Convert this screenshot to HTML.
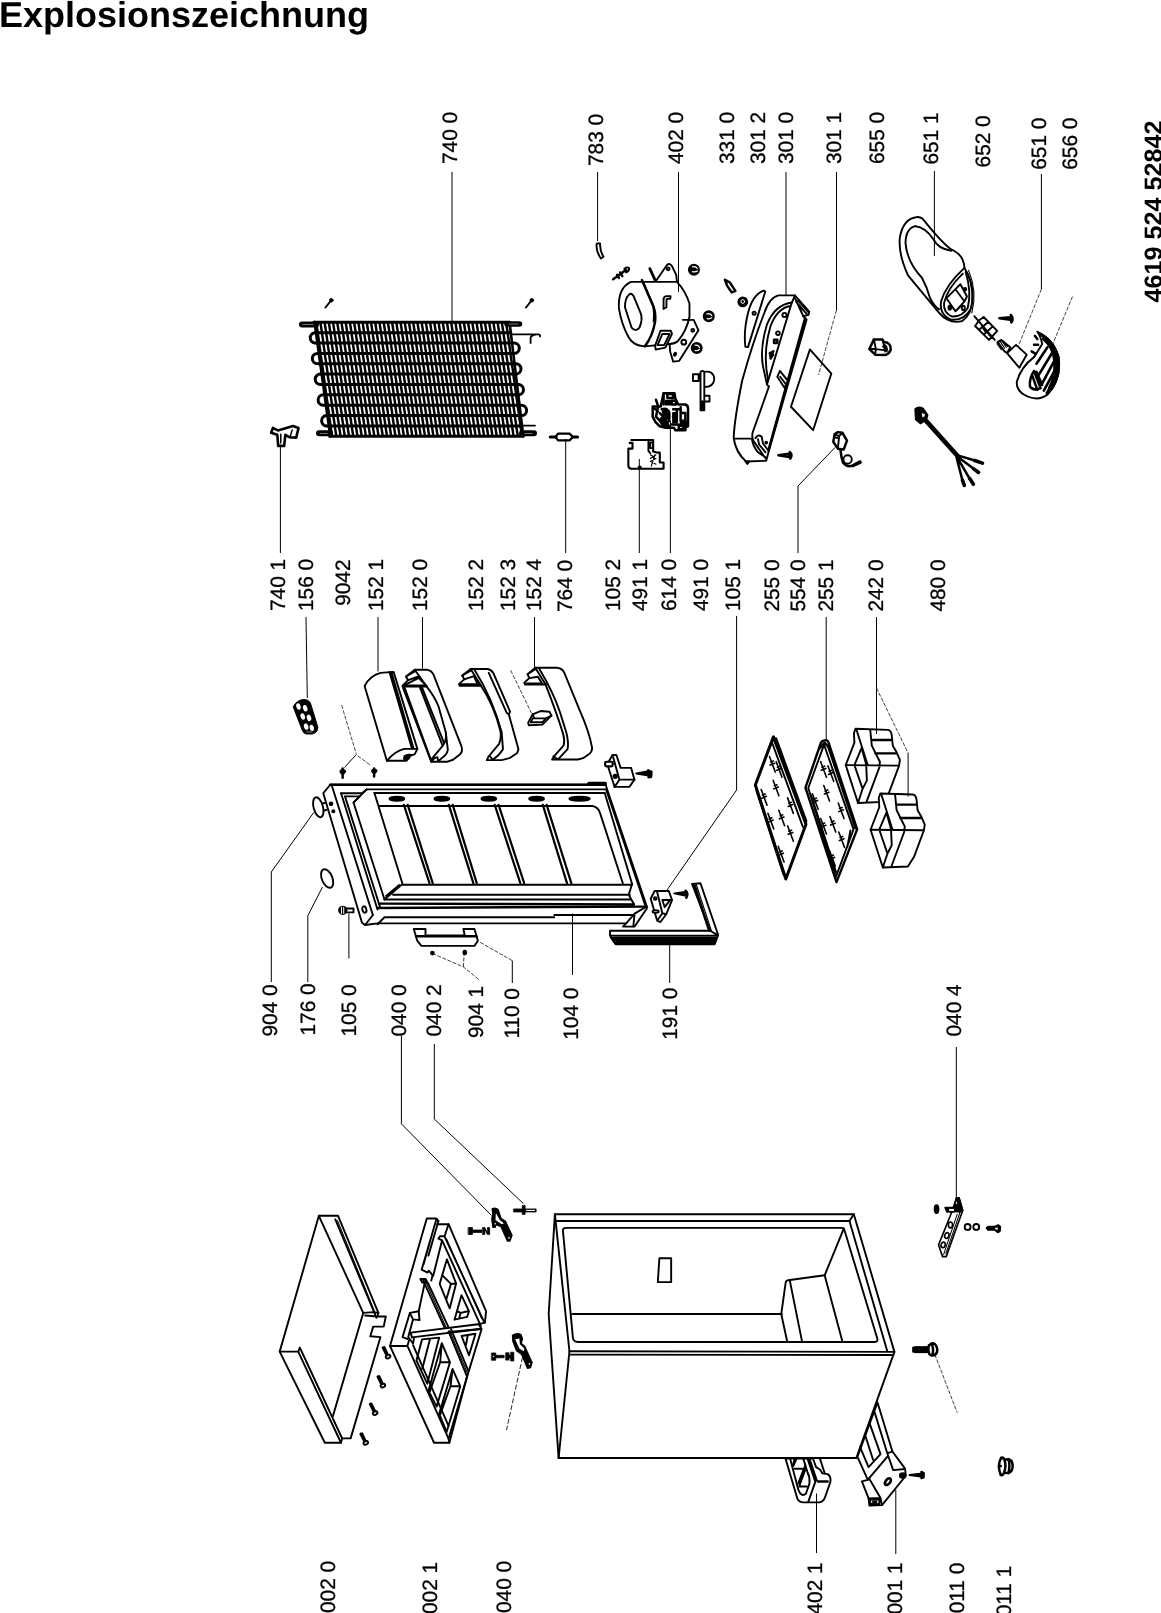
<!DOCTYPE html>
<html><head><meta charset="utf-8"><title>Explosionszeichnung</title>
<style>
html,body{margin:0;padding:0;background:#fff;}
body{width:1161px;height:1613px;overflow:hidden;position:relative;font-family:"Liberation Sans",sans-serif;}
svg{position:absolute;left:0;top:0;filter:grayscale(1);}
text{text-rendering:geometricPrecision;-webkit-font-smoothing:antialiased;}
.t{font-family:"Liberation Sans",sans-serif;font-size:20.8px;fill:#000;stroke:#000;stroke-width:0.3;}
.b{font-family:"Liberation Sans",sans-serif;font-weight:bold;fill:#000;}
.p *{vector-effect:non-scaling-stroke;}
.p{fill:none;stroke:#000;stroke-width:1.9;stroke-linejoin:round;stroke-linecap:round;}
.w{fill:#fff;}
.k{fill:#000;}
.ld{stroke:#000;stroke-width:1;fill:none;}
.dl{stroke:#111;stroke-width:0.8;fill:none;stroke-dasharray:4 1.5;}
.th{stroke-width:1.1;}
.hv{stroke-width:2.5;}
</style></head><body>
<svg width="1161" height="1613" viewBox="0 0 1161 1613">
<!-- 00_labels.svg -->
<text class="b" x="-1" y="27.2" font-size="36">Explosionszeichnung</text>
<text class="b" font-size="25.2" transform="translate(1161.5,302.5) rotate(-90)">4619 524 52842</text>
<text class="t" transform="translate(457.4,164.0) rotate(-90)">740 0</text>
<text class="t" transform="translate(602.9,166.0) rotate(-90)">783 0</text>
<text class="t" transform="translate(683.4,164.0) rotate(-90)">402 0</text>
<text class="t" transform="translate(734.0,164.0) rotate(-90)">331 0</text>
<text class="t" transform="translate(765.4,164.0) rotate(-90)">301 2</text>
<text class="t" transform="translate(792.7,164.0) rotate(-90)">301 0</text>
<text class="t" transform="translate(841.0,164.0) rotate(-90)">301 1</text>
<text class="t" transform="translate(884.3,164.0) rotate(-90)">655 0</text>
<text class="t" transform="translate(938.2,164.5) rotate(-90)">651 1</text>
<text class="t" transform="translate(990.4,167.4) rotate(-90)">652 0</text>
<text class="t" transform="translate(1045.7,169.7) rotate(-90)">651 0</text>
<text class="t" transform="translate(1076.5,169.7) rotate(-90)">656 0</text>
<text class="t" transform="translate(285.3,611.0) rotate(-90)">740 1</text>
<text class="t" transform="translate(313.0,611.0) rotate(-90)">156 0</text>
<text class="t" transform="translate(350.0,605.8) rotate(-90)">9042</text>
<text class="t" transform="translate(382.7,611.0) rotate(-90)">152 1</text>
<text class="t" transform="translate(427.0,611.0) rotate(-90)">152 0</text>
<text class="t" transform="translate(483.3,611.0) rotate(-90)">152 2</text>
<text class="t" transform="translate(514.8,611.0) rotate(-90)">152 3</text>
<text class="t" transform="translate(541.0,611.0) rotate(-90)">152 4</text>
<text class="t" transform="translate(571.7,612.0) rotate(-90)">764 0</text>
<text class="t" transform="translate(620.3,611.0) rotate(-90)">105 2</text>
<text class="t" transform="translate(646.7,611.0) rotate(-90)">491 1</text>
<text class="t" transform="translate(676.3,611.0) rotate(-90)">614 0</text>
<text class="t" transform="translate(707.6,611.0) rotate(-90)">491 0</text>
<text class="t" transform="translate(739.6,611.0) rotate(-90)">105 1</text>
<text class="t" transform="translate(779.2,611.6) rotate(-90)">255 0</text>
<text class="t" transform="translate(804.5,611.6) rotate(-90)">554 0</text>
<text class="t" transform="translate(832.5,611.6) rotate(-90)">255 1</text>
<text class="t" transform="translate(882.9,611.6) rotate(-90)">242 0</text>
<text class="t" transform="translate(945.4,611.6) rotate(-90)">480 0</text>
<text class="t" transform="translate(277.3,1036.5) rotate(-90)">904 0</text>
<text class="t" transform="translate(315.0,1035.5) rotate(-90)">176 0</text>
<text class="t" transform="translate(356.4,1036.5) rotate(-90)">105 0</text>
<text class="t" transform="translate(405.7,1036.5) rotate(-90)">040 0</text>
<text class="t" transform="translate(440.8,1036.5) rotate(-90)">040 2</text>
<text class="t" transform="translate(483.4,1038.0) rotate(-90)">904 1</text>
<text class="t" transform="translate(518.5,1038.6) rotate(-90)">110 0</text>
<text class="t" transform="translate(578.1,1039.7) rotate(-90)">104 0</text>
<text class="t" transform="translate(677.1,1039.7) rotate(-90)">191 0</text>
<text class="t" transform="translate(961.3,1036.5) rotate(-90)">040 4</text>
<text class="t" transform="translate(334.7,1613.0) rotate(-90)">002 0</text>
<text class="t" transform="translate(437.3,1614.0) rotate(-90)">002 1</text>
<text class="t" transform="translate(511.2,1613.0) rotate(-90)">040 0</text>
<text class="t" transform="translate(822.1,1614.5) rotate(-90)">402 1</text>
<text class="t" transform="translate(902.0,1614.5) rotate(-90)">001 1</text>
<text class="t" transform="translate(964.1,1613.3) rotate(-90)">011 0</text>
<text class="t" transform="translate(1011.4,1616.3) rotate(-90)">011 1</text>

<!-- 10_cabinet.svg -->
<g class="p" transform="translate(540,1190) scale(0.31008)">
<!-- outer body -->
<path class="w" d="M48 78H1012L1143 522L1020 864.5H60L28 400Z"/>
<path d="M48 78L95 520L60 864.5"/>
<path d="M95 520L1143 522"/>
<path d="M96 531L1140 532"/>
<path d="M50 100H998"/>
<path d="M998 100L1120 520"/>
<path d="M1012 78L998 100"/>
<!-- inner opening -->
<path d="M84 122H972Q980 122 982 130L1088 480Q1090 490 1080 490H122Q108 490 106 476L74 132Q73 122 84 122Z"/>
<path d="M104 400L780 400"/>
<path d="M980 124L918 275L800 291Q793 292 792 300L778 400L797 488"/>
<path d="M806 294L845 488"/>
<path d="M918 275L975 488"/>
<path d="M385 220H423V297H380Z"/>
</g>

<!-- 11_rails.svg -->
<g class="p" transform="translate(850,1395) scale(0.07442)">
<path class="w" d="M370 100L570 760L740 990L750 1085L430 1480L260 1485L250 1390L160 1160L240 1140L100 830Z"/>
<path d="M330 230L500 780L570 760M500 780L580 1010L740 995"/>
<path d="M265 385L410 795L250 968L135 700M205 545L310 870"/>
<path d="M500 830L255 1120L240 1140M255 1120L410 1385L430 1480M250 1390L410 1385M270 1405H395V1465H272Z"/>
<ellipse class="k" cx="332" cy="1436" rx="26" ry="9"/>
<ellipse cx="510" cy="1165" rx="30" ry="52" transform="rotate(38 510 1165)" style="stroke-width:2.6"/>
<ellipse class="k" cx="708" cy="1082" rx="38" ry="30"/>
<path class="k" d="M800 1075L950 1058V1096Z"/><path class="k" d="M958 1030L995 1050L990 1110L958 1120Z"/>
</g>
<g class="p" transform="translate(775,1440) scale(0.07752)">
<path class="w" d="M135 238L290 760Q310 805 370 805H570Q625 795 645 740L715 540Q725 470 680 440L610 430L580 380L530 350L490 238Z"/>
<path d="M580 240L640 425"/>
<path d="M195 240L300 640Q340 745 400 690L445 560Q452 480 420 420L365 240"/>
<path d="M255 240L230 330M278 240L236 336M255 370H350M325 600H410M392 320L300 560M402 352L312 600"/>
<path d="M420 240L520 540L430 795M445 240L540 522"/>
<path style="stroke-width:2.4" d="M555 535H680"/>
</g>
<g class="p" transform="translate(760,1340) scale(0.2412)">
<!-- 011 0 screw -->
<path class="hv" d="M636 32V48M644 30V50M652 30V50M660 30V50M668 30V50M676 30V50M684 30V50M692 30V50M636 40H698"/>
<path class="hv" d="M700 22Q694 40 702 58M702 22Q712 10 724 16Q738 30 734 50Q728 66 712 64Q704 62 702 58M712 16Q722 40 714 64"/>
<!-- 011 1 foot -->
<path class="hv" d="M1000 488Q982 520 998 560Q1008 562 1012 550Q1034 556 1044 540Q1052 520 1042 500Q1030 490 1014 498Q1010 486 1000 488ZM1014 498Q1022 522 1012 550M1030 494Q1038 520 1030 552M990 522H998"/>
</g>

<!-- 12_top0.svg -->
<g class="p" transform="translate(270,1200) scale(0.16129)">
<path class="w" d="M303 98H422L672 700L665 722H718L705 785H640L622 845L685 850L500 1478H447L440 1505H340L60 940Z"/>
<path d="M303 98L578 700L390 1340"/>
<path d="M60 940H175L185 915L447 1478"/>
<path d="M175 940L440 1505"/>
<path class="th" d="M196 940L440 1462"/>
<path d="M405 120L660 730"/>
<path class="th" d="M418 128L652 700"/>
<path d="M578 700L640 695L672 700M590 716L665 722"/>
<defs><g id="scr"><path class="hv" d="M-22 -40L2 8M-14 -42L8 4"/><ellipse class="w" cx="10" cy="16" rx="15" ry="10" transform="rotate(-25 10 16)"/></g></defs>
</g>
<g class="p" transform="translate(270,1200) scale(0.16129)">
<use href="#scr" transform="translate(722 955)"/>
<use href="#scr" transform="translate(690 1135)"/>
<use href="#scr" transform="translate(642 1305)"/>
<use href="#scr" transform="translate(584 1490)"/>
</g>

<!-- 13_top1.svg -->
<g class="p" transform="translate(380,1200) scale(0.16129)">
<path class="w" d="M290 115H350L362 130L355 150H425L658 690L650 760L612 770L630 800L540 1095L430 1505H335L62 905Z"/>
<!-- left slab -->
<path d="M350 118L258 432L295 450L302 438L326 466L318 500M362 132L300 345M340 150L270 400"/>
<path d="M250 490H282L300 520M250 490L262 512H285"/>
<path d="M282 492L240 690L185 700L140 850L172 862"/>
<path d="M185 700L205 740L245 745L240 690M205 740L175 850L205 890L210 860"/>
<path d="M62 905H170L425 1480L430 1505M170 905L180 870"/>
<!-- back-right rail -->
<path d="M425 150L400 225H372L362 240L385 250L625 780M400 225L640 745L650 760M385 250L330 470"/>
<path class="th" d="M412 240L630 735"/>
<!-- cross bar -->
<path d="M190 822L608 770M198 852L622 800M190 822L198 852"/>
<!-- diagonal bar -->
<path d="M268 500L400 790M300 520L425 790M425 815L540 1095M440 800L548 1060"/>
<path class="th" d="M285 510L410 790M432 810L545 1080"/>
<!-- window upper right -->
<path d="M415 368L472 518L432 672L370 520ZM390 470L440 520L472 518M440 520L410 620"/>
<path d="M505 590L552 690L540 725L462 742ZM480 690L500 700L545 690M500 700L490 735"/>
<!-- lower right triangle -->
<path d="M430 818L625 800M506 843L592 829L552 963ZM544 840L533 899"/>
<!-- lower-left ladder -->
<path d="M261 864L367 853L293 1139L226 995ZM309 866L262 1046"/>
<path d="M383 888L434 1006L351 1281L301 1182ZM373 1006H434M373 1006L309 1187M383 888L373 1006"/>
<path d="M450 1048L498 1155L413 1438L367 1326ZM437 1155H498M437 1155L373 1331M450 1048L437 1155"/>
<path d="M205 900L425 1400M540 1095L425 1480"/>
</g>

<!-- 20_condenser.svg -->
<g fill="none" stroke="#000" stroke-linecap="butt">
<path d="M315.7 0.0H509.6" stroke-width="10.4" stroke-dasharray="2.5 1.72" transform="translate(0 327.5) skewX(9) translate(0 0.0)"/>
<path d="M317.2 0.0H510.8" stroke-width="10.4" stroke-dasharray="2.5 1.72" transform="translate(0 337.8) skewX(9) translate(0 0.0)"/>
<path d="M318.6 0.0H512.1" stroke-width="10.4" stroke-dasharray="2.5 1.72" transform="translate(0 348.2) skewX(9) translate(0 0.0)"/>
<path d="M320.0 0.0H513.3" stroke-width="10.4" stroke-dasharray="2.5 1.72" transform="translate(0 358.6) skewX(9) translate(0 0.0)"/>
<path d="M321.5 0.0H514.5" stroke-width="10.4" stroke-dasharray="2.5 1.72" transform="translate(0 368.9) skewX(9) translate(0 0.0)"/>
<path d="M322.9 0.0H515.8" stroke-width="10.4" stroke-dasharray="2.5 1.72" transform="translate(0 379.3) skewX(9) translate(0 0.0)"/>
<path d="M324.3 0.0H517.0" stroke-width="10.4" stroke-dasharray="2.5 1.72" transform="translate(0 389.7) skewX(9) translate(0 0.0)"/>
<path d="M325.8 0.0H518.2" stroke-width="10.4" stroke-dasharray="2.5 1.72" transform="translate(0 400.0) skewX(9) translate(0 0.0)"/>
<path d="M327.2 0.0H519.4" stroke-width="10.4" stroke-dasharray="2.5 1.72" transform="translate(0 410.4) skewX(9) translate(0 0.0)"/>
<path d="M328.6 0.0H520.7" stroke-width="10.4" stroke-dasharray="2.5 1.72" transform="translate(0 420.8) skewX(9) translate(0 0.0)"/>
<path d="M330.1 0.0H521.9" stroke-width="10.4" stroke-dasharray="2.5 1.72" transform="translate(0 431.1) skewX(9) translate(0 0.0)"/>
</g>
<g fill="none" stroke="#000" stroke-width="3" stroke-linecap="round">
<path d="M314.0 322.3H509.5"/>
<path d="M315.4 332.7H510.7"/>
<path d="M316.9 343.0H512.0"/>
<path d="M318.3 353.4H513.2"/>
<path d="M319.7 363.8H514.4"/>
<path d="M321.2 374.1H515.6"/>
<path d="M322.6 384.5H516.9"/>
<path d="M324.1 394.8H518.1"/>
<path d="M325.5 405.2H519.3"/>
<path d="M326.9 415.6H520.5"/>
<path d="M328.4 425.9H521.8"/>
<path d="M329.8 436.3H523.0"/>
<path d="M316.2 332.7H314.7A5.2 5.2 0 0 0 314.7 343.0H317.2"/>
<path d="M319.0 353.4H317.5A5.2 5.2 0 0 0 317.5 363.8H320.0"/>
<path d="M321.9 374.1H320.4A5.2 5.2 0 0 0 320.4 384.5H322.9"/>
<path d="M324.8 394.8H323.3A5.2 5.2 0 0 0 323.3 405.2H325.8"/>
<path d="M327.6 415.6H326.1A5.2 5.2 0 0 0 326.1 425.9H328.6"/>
<path d="M512.6 343.0H514.1A5.2 5.2 0 0 1 514.1 353.4H512.6"/>
<path d="M515.0 363.8H516.5A5.2 5.2 0 0 1 516.5 374.1H515.0"/>
<path d="M517.5 384.5H519.0A5.2 5.2 0 0 1 519.0 394.8H517.5"/>
<path d="M519.9 405.2H521.4A5.2 5.2 0 0 1 521.4 415.6H519.9"/>
</g>
<g fill="none" stroke="#000" stroke-linecap="round" stroke-linejoin="round">
<path d="M314.5 322L330.3 436.5M509.5 322L523.3 436.5" stroke-width="2.6"/>
<path d="M302 324.5H316" stroke-width="6"/>
<path d="M507 324H519.5" stroke-width="5.5"/>
<path d="M319 433.3H330M522 433.3H534" stroke-width="6"/>
<path d="M303 324.5H313M509 324H518M320.5 433.5H327M525 433.5H532" stroke="#777" stroke-width="1.2"/>
<path d="M511 334.3H538.5Q540.5 334.6 540 336.5M536 334.5Q531 335 530.6 338V343" stroke-width="1.8"/>
<path d="M523 425.6H535" stroke-width="1.8"/>
<path d="M325.5 307.5L331 300.5M526 307.5L531.5 300.5" stroke-width="2"/>
<circle cx="331.3" cy="300.3" r="1.8" fill="#000"/><circle cx="531.8" cy="300.3" r="1.8" fill="#000"/>
</g>

<!-- 21_cond_small.svg -->
<g class="p" transform="translate(260,410) scale(0.05168)" style="stroke-width:2.6">
<path class="w" d="M215 440L250 345L345 395L640 310L745 350L700 535L575 528L490 480L468 695H352L335 480Z"/>
<path d="M402 470V640M622 385L585 515" style="stroke-width:1.5"/>
</g>
<g class="p" style="stroke-width:2.2">
<path class="w" d="M555.5 437L558 433.6H569.5L573 437L569.5 440.4H558Z"/>
<path d="M550.3 437H556M572.5 437H577.5" style="stroke-width:3.2"/>
</g>

<!-- 30_compressor.svg -->
<g class="p" transform="translate(590,230) scale(0.12058)">
<!-- bracket top -->
<path d="M545 425L640 288Q660 272 680 300L715 372L722 432"/>
<circle cx="648" cy="322" r="12"/>
<path d="M496 320L540 416" style="stroke-width:2.8"/>
<!-- foot -->
<path class="w" d="M770 745H860L900 832L740 1085L690 1092L665 1010L660 940Z"/>
<circle cx="852" cy="832" r="12"/><circle cx="778" cy="930" r="20"/><ellipse cx="705" cy="1030" rx="8" ry="13" transform="rotate(25 705 1030)"/>
<!-- body -->
<path class="w" d="M340 430H720Q790 500 825 610V720Q800 840 730 920Q700 945 660 945L450 965Q360 960 320 890Q260 780 240 650Q230 480 340 430Z"/>
<path class="hv" d="M430 415L520 620Q548 680 540 760Q520 880 455 965"/>
<path d="M445 440L525 630Q535 700 528 760"/>
<path d="M330 530Q290 560 290 640L345 810Q380 850 410 810Q440 740 420 690L360 545Q345 525 330 530Z"/>
<path d="M610 655V572Q614 548 636 548H668L666 570H645Q634 570 634 585V640Z"/>
<path class="w" d="M585 835H670L680 862L625 975L545 992L540 960Z"/>
<path d="M600 862H660L615 955H560Z"/>
<path d="M770 745H830"/>
<!-- grommets -->
<g class="k"><circle cx="862" cy="330" r="42"/><circle cx="985" cy="715" r="42"/><circle cx="885" cy="978" r="42"/></g>
<g stroke="#fff" style="stroke-width:1.2"><path d="M850 305Q880 300 890 320M850 345Q875 350 890 340M970 695Q1000 690 1010 710M972 735Q995 740 1010 728M872 955Q900 950 908 975M872 1000Q895 1005 908 990"/></g>
<!-- 783 0 tube -->
<path d="M55 115Q48 175 90 236L112 222Q80 170 84 113Q70 105 55 115Z"/>
<!-- clip -->
<path class="hv" d="M192 408L300 330M225 372L240 398M250 352L268 382"/>
<path d="M285 322Q310 300 325 318Q325 345 300 352Z"/>
</g>

<!-- 31_tray.svg -->
<g class="p" transform="translate(720,270) scale(0.13023)">
<!-- 301 0 tray -->
<path class="w" d="M450 195H575L685 320L680 345L640 355L665 380L375 1390L355 1465L200 1470Q120 1400 105 1290Q110 1150 170 850Q250 560 340 330Q380 210 450 195Z"/>
<path class="hv" d="M652 375L372 1385"/>
<path d="M575 195L545 270L360 880L376 895L250 1250Q244 1290 256 1320"/>
<path d="M585 245L668 340M600 235L680 325M575 215L640 355"/>
<path d="M548 250Q420 270 360 420Q305 600 330 740L360 875"/>
<path d="M540 276Q440 292 388 430Q338 600 356 760L370 850"/>
<path d="M110 1295H245L352 1450M245 1295Q250 1350 292 1400L356 1442"/>
<path d="M272 1292Q290 1258 320 1280L330 1332L374 1390M292 1300L300 1340L350 1400"/>
<circle cx="495" cy="345" r="16"/><circle cx="445" cy="485" r="14"/>
<path class="hv" d="M415 535H440V560H415ZM382 640L410 625L385 660L408 650L388 680"/>
<path class="w" d="M440 820L460 775L520 850L495 905Z"/><path d="M462 820L500 870"/>
<circle class="k" cx="355" cy="1325" r="7"/>
<path class="k" d="M195 1470L210 1490L225 1470Z"/>
<!-- 331 0 crescent -->
<path class="w" d="M335 158Q250 190 215 330Q180 470 195 590L215 592L348 165Z"/>
<circle cx="262" cy="332" r="12"/>
<!-- 301 1 rect -->
<path d="M690 610L855 795L715 1230L545 1050Z"/>
<!-- 301 2 clip -->
<path class="hv" d="M38 75L75 95L118 160L90 172L55 122Z"/>
<!-- grommet -->
<circle class="k" cx="175" cy="245" r="34"/><circle cx="175" cy="242" r="14" stroke="#fff" style="stroke-width:1"/>
<!-- screw -->
<path class="hv" d="M448 1422L530 1410M448 1422L530 1436M535 1398Q560 1420 540 1448L530 1410V1436"/>
<!-- 554 0 -->
<path class="hv" d="M880 1262L905 1245L940 1250L975 1310L950 1378L905 1372L870 1320Z"/>
<path d="M880 1262L915 1275L940 1250M915 1275L905 1372M885 1285L900 1290"/>
<path class="hv" d="M925 1380Q930 1440 945 1480Q980 1520 1020 1500L1075 1470"/>
<circle cx="980" cy="1455" r="32"/>
</g>

<!-- 32_relay.svg -->
<g class="p" transform="translate(620,360) scale(0.09474)">
<!-- 614 0 relay -->
<path class="w hv" d="M345 490H430L460 350H575L585 410L615 470H690Q718 480 718 510V700L690 712V742H585L570 715L480 715L420 700L375 655L345 600Z"/>
<g class="hv"><path d="M380 420L400 480M460 350V470M500 360H560V400H500ZM545 430H590V470H545ZM400 500L380 600L430 650M440 520Q500 500 520 560V640L470 690M560 520H640M600 520V650M640 560H690V640H640ZM420 560L460 600L430 620M540 680H620M620 690H670V730H620ZM560 600L590 640M470 540L500 600M350 500L400 540M640 500V560"/></g>
<path class="k" d="M450 540H520V620H470ZM560 560H600V660H560ZM480 430H530V470H480ZM640 650H700V700H640ZM420 640L480 620L520 700L450 700Z"/>
<!-- 491 1 cover -->
<path style="stroke-width:2.1" d="M120 845H350V965L400 978H420V1082H460V1148H115Q88 1142 88 1112V935H132V875H102"/>
<path d="M300 850V960L320 985M320 870H348V930H320Z"/>
<path class="th" d="M320 1000L380 1040L320 1070L380 1100M330 1120L370 1000M320 1040L380 1000"/>
<circle class="k" cx="208" cy="1135" r="12"/>
<!-- 491 0 -->
<path d="M850 125V530H890V135M850 125Q870 105 890 125M890 125Q990 110 995 200Q990 285 890 285M770 150H830V222H770ZM850 150H830M905 378H945V438H905M870 435V525" />
</g>

<!-- 33_lamp.svg -->
<g class="p" transform="translate(890,200) scale(0.16367)">
<!-- 651 1 cover -->
<path class="w" d="M160 105Q80 115 60 230Q50 330 110 460L300 690Q360 760 440 740Q500 700 505 600Q510 500 455 415Q450 340 390 310Q340 290 200 115Q180 100 160 105Z"/>
<path d="M155 160Q95 175 95 265Q105 380 195 475Q225 530 245 600Q270 650 300 668"/>
<path d="M155 160Q215 165 265 240Q295 300 375 310"/>
<path d="M455 415Q340 520 312 620Q300 700 370 730Q450 740 490 670"/>
<path d="M445 450Q350 540 330 630Q325 690 380 712Q440 715 475 660Q500 560 462 440"/>
<path d="M345 600L400 545L455 620L400 680ZM400 545L430 515L470 590L455 620M370 640L400 680L440 640"/>
<ellipse class="k" cx="365" cy="658" rx="8" ry="12"/><ellipse cx="448" cy="660" rx="9" ry="14"/><circle class="k" cx="458" cy="545" r="8"/>
<path class="th" d="M470 440Q520 560 490 680M480 430Q535 560 500 690"/>
<!-- 652 0 socket -->
<path d="M515 710L640 855M545 735L572 715L655 800L605 855L520 770ZM548 790L600 745M575 820L628 772M560 765L580 800M590 800L610 830"/>
<!-- small screw -->
<path class="hv" d="M668 722L735 716M668 722L735 732M738 702Q758 722 742 748L735 716"/>
<!-- 651 0 bulb -->
<path class="w" d="M715 935L770 885L835 945L790 1025Z"/>
<path d="M655 870L680 855L735 900L715 935L700 925Z"/>
<path class="th" d="M662 868L690 912M672 862L700 906M682 858L710 900M692 862L718 895M655 880L680 915"/>
<!-- 656 0 lens -->
<path class="w" d="M900 805Q1000 850 1030 960Q1050 1100 960 1190Q900 1235 820 1190Q770 1160 775 1110Q800 1020 880 960L930 880Q920 830 900 805Z"/>
<path class="k" d="M905 810Q1000 850 1030 960Q1048 1095 962 1188Q1030 1085 1008 975Q985 870 905 810Z"/><path class="hv" d="M935 850Q1000 900 1005 990Q1010 1080 972 1150"/>
<path style="stroke-width:2.6" d="M962 900L895 1000M990 935L905 1075M1008 975L925 1130M1015 1025L940 1165M1015 1080L958 1180"/>
<path class="hv" d="M880 1045Q850 1090 855 1140Q880 1170 920 1150M880 1045L920 1150M870 1075L900 1160M895 1050L930 1130"/>
<path class="hv" d="M885 830L900 850M880 885H905M865 925L890 940"/>
</g>

<!-- 34_cable.svg -->
<g class="p" transform="translate(850,320) scale(0.1292)">
<!-- 655 0 -->
<path class="hv" d="M150 225L185 150H250L262 170Q320 175 315 230Q305 262 275 270L195 268Z"/>
<path d="M185 150L200 225L275 235L250 150M150 225L200 225M200 225L195 268M262 190Q290 200 285 240M255 205Q275 215 270 245"/>
<!-- 480 0 cable -->
<path class="k" d="M505 690Q530 665 565 685L600 735L590 770L545 800L510 770Z"/>
<path stroke="#fff" class="k" style="fill:#fff;stroke:none" d="M555 720L580 730L575 760L560 750Z"/>
<path style="stroke-width:4.6" d="M575 765L840 1060"/>
<path class="hv" d="M840 1050L960 1085M835 1060L950 1145M830 1065L925 1225M825 1065L870 1240"/>
<path style="stroke-width:3.6" d="M965 1088L1025 1108M955 1150L995 1180M925 1225L955 1272M870 1240L885 1280"/>
<!-- 554 0 tail -->
<path style="stroke-width:3" d="M25 1128L80 1102"/>
</g>

<!-- 40_door.svg -->
<g class="p" transform="translate(300,770) scale(0.15504)">
<!-- door body fill -->
<path class="w" d="M195 95H1971L2237 880V893L2158 1010H2083L2104 989H500L420 1000L400 985L150 150Z"/>
<path style="stroke-width:2.6" d="M195 95H1971"/>
<path style="stroke-width:3" d="M1862 86H1970"/>
<!-- left face -->
<path d="M205 100L470 935M265 150L500 900M290 170L515 880"/>
<path d="M265 150H400L430 125H1975M290 170H385L345 210L545 835"/>
<path d="M430 125L345 210"/>
<path d="M480 148H1966"/>
<path d="M480 148L660 730"/>
<path d="M510 232H1886Q1926 240 1936 280L2082 730"/>
<path d="M545 835L655 740H2142M555 812L640 742"/>
<path d="M600 805H2128M545 835H2136"/>
<path style="stroke-width:2.4" d="M510 862L2154 867M500 890L2234 881"/>
<path d="M545 950L500 995M545 950H1640M1640 935H2145"/>
<path d="M470 935L420 1000"/>
<!-- right end -->
<path d="M1976 130L2226 870M1966 150L2142 735L2120 805L2154 866"/>
<path d="M2237 880L2158 926L2104 989M2158 926L2150 1008"/>
<!-- slots -->
<g class="k"><ellipse cx="625" cy="185" rx="48" ry="13"/><ellipse cx="915" cy="185" rx="48" ry="13"/><ellipse cx="1218" cy="185" rx="48" ry="13"/><ellipse cx="1526" cy="185" rx="48" ry="13"/><ellipse cx="1803" cy="185" rx="66" ry="13"/></g>
<!-- dividers -->
<g style="stroke-width:2.2"><path d="M670 225L835 730M695 225L856 730M960 225L1118 730M985 225L1140 730M1256 225L1421 730M1281 225L1446 730M1566 225L1722 730M1591 225L1750 730"/></g>
<!-- details -->
<circle class="k" cx="200" cy="218" r="9"/><circle class="k" cx="215" cy="266" r="7"/>
<ellipse cx="415" cy="900" rx="13" ry="21" transform="rotate(-15 415 900)"/>
<!-- 904 0 cap -->
<ellipse class="w" cx="118" cy="240" rx="30" ry="66" transform="rotate(-15 118 240)"/>
<path d="M146 215L162 212M152 262L170 258"/>
<!-- 176 0 -->
<ellipse cx="175" cy="700" rx="34" ry="63" transform="rotate(-22 175 700)"/>
<!-- 105 0 bolt -->
<circle class="k" cx="276" cy="905" r="24"/><path stroke="#fff" style="stroke-width:1" d="M268 885V925M282 885V925"/>
<path d="M298 893H345V918H298"/>
<!-- top screws -->
<path class="hv" d="M275 -10V50M262 8Q275 -8 290 8L282 20H268Z M478 -10V42M466 5Q478 -8 492 5L484 16H472Z"/>
</g>

<!-- 41_handle.svg -->
<g class="p" transform="translate(400,920) scale(0.13782)">
<path class="w" d="M100 65H185V112H470L460 65H540L565 150L540 188H155L125 150Z"/>
<path style="stroke-width:2.4" d="M118 118H555"/>
<circle class="k" cx="235" cy="240" r="10"/><ellipse class="k" cx="470" cy="235" rx="10" ry="13"/>
</g>

<!-- 42_gasket.svg -->
<g class="p" transform="translate(590,860) scale(0.1292)">
<!-- 191 0 gasket -->
<path class="w" d="M155 548H930L790 185L855 180L992 580L965 652H200L155 585Z"/>
<path class="k" d="M185 600H978L962 648H202Z"/>
<path d="M160 585H985M930 548L985 580"/>
<path style="stroke-width:2.6" d="M808 192L922 545"/>
<path class="th" d="M822 188L940 548"/>
<path class="w" d="M170 600L205 632L195 648L160 598Z"/>
<!-- 105 1 hinge block -->
<path class="w" d="M500 240H610L635 310L590 420L545 480L520 470L470 300Z"/>
<path d="M520 250L560 412L590 420M560 412L525 462M560 310H632M560 310L578 365L612 320"/>
<circle cx="505" cy="298" r="10"/>
<ellipse class="w" cx="508" cy="398" rx="24" ry="10"/>
<!-- screw -->
<path class="k" d="M652 258L735 248V276Z"/><path class="hv" d="M740 238Q764 262 745 292"/>
</g>

<!-- 43_shelves.svg -->
<g class="p" transform="translate(360,660) scale(0.10336)">
<!-- 152 1 lid -->
<path class="w" d="M45 250Q100 150 200 125L325 115L555 860L530 910L480 930L450 975H260L50 270Z"/>
<path d="M285 115L500 850M305 120L520 862M260 975Q340 880 430 860H555M430 930Q470 910 505 920"/>
<ellipse class="k" cx="452" cy="945" rx="28" ry="18" transform="rotate(-25 452 945)"/>
<!-- 152 0 shelf -->
<path class="w" d="M530 95H650Q690 100 710 140L980 830Q1000 890 960 920L900 965L840 985H690L415 265L410 250L465 195L445 160Z"/>
<path style="stroke-width:3" d="M430 252H640"/>
<path d="M530 95L640 250M445 160L530 110M465 195L560 162L640 250M415 250L560 178"/>
<path d="M432 268L690 978M580 265L800 830M600 265L812 800M640 250Q720 350 760 450L830 700Q842 780 800 830L690 962"/>
<path d="M830 700L850 870Q840 920 790 950L760 978M690 985L720 950L750 940L756 978"/>
</g>
<g class="p" transform="translate(450,660) scale(0.1292)">
<!-- 152 2 -->
<path class="w" d="M160 70H290Q320 75 335 100L465 400L455 420L530 690L520 720L460 760L400 775H285L300 745L380 650Q400 600 390 550Q340 350 240 200H75L70 185L110 150L95 120Z"/>
<path d="M160 70L240 200M95 120L160 82M110 150L185 125L215 192M190 75Q330 300 400 560L410 690Q380 740 330 772M300 100L440 412L455 420M310 745L330 772"/>
<path style="stroke-width:2.4" d="M85 190H222"/>
<!-- 152 4 -->
<path class="w" d="M660 60H830Q870 65 885 100L1000 380Q1080 560 1100 680Q1100 710 1080 725L1030 760L990 770H790L810 740L880 660Q890 620 875 570Q830 420 740 190H580L575 175L615 140L600 110Z"/>
<path d="M660 60L740 190M600 110L660 72M615 140L680 130L715 186M690 65Q800 250 850 400L900 560Q920 640 910 690L840 766M800 745L830 766"/>
<path style="stroke-width:2.2" d="M590 182H712"/>
<!-- 152 3 insert -->
<path class="w" d="M640 420L700 395L770 400L785 430L715 500L610 505L605 485Z"/>
<path d="M640 452H742L715 482H625ZM640 420L650 448M785 430L742 452"/>
</g>
<g class="p" transform="translate(280,680) scale(0.09474)">
<!-- 156 0 egg tray -->
<path class="k" style="stroke-width:1" d="M145 275Q170 215 250 205Q300 205 320 240L400 500Q395 560 340 570L275 570Q245 560 235 530L140 285Z"/>
<g fill="#fff" stroke="none"><ellipse cx="195" cy="280" rx="23" ry="35" transform="rotate(-15 195 280)"/><ellipse cx="266" cy="298" rx="23" ry="35" transform="rotate(-15 266 298)"/><ellipse cx="240" cy="385" rx="23" ry="35" transform="rotate(-15 240 385)"/><ellipse cx="306" cy="400" rx="23" ry="35" transform="rotate(-15 306 400)"/><ellipse cx="276" cy="492" rx="23" ry="35" transform="rotate(-15 276 492)"/><ellipse cx="336" cy="505" rx="22" ry="34" transform="rotate(-15 336 505)"/><path d="M275 545H345L340 552H280Z"/></g>
</g>

<!-- 44_trays.svg -->
<g class="p" transform="translate(745,725) scale(0.10336)">
<defs><g id="cm"><path d="M-28 -75L28 75M-22 8L22 -10M-16 -22L10 -32"/></g></defs>
<!-- 255 0 -->
<path class="w" style="stroke-width:3" d="M275 115L590 960L395 1490L100 580Z"/>
<path d="M258 160L560 985M112 640L372 1445" />
<path style="stroke-width:2.4" d="M300 130L592 930"/>
<g style="stroke-width:1.6"><use href="#cm" x="265" y="380"/><use href="#cm" x="300" y="610"/><use href="#cm" x="185" y="700"/><use href="#cm" x="440" y="780"/><use href="#cm" x="355" y="900"/><use href="#cm" x="250" y="930"/><use href="#cm" x="440" y="1050"/><use href="#cm" x="350" y="1250"/><use href="#cm" x="330" y="430"/></g>
<!-- 255 1 -->
<path class="w" style="stroke-width:2.4" d="M770 150Q790 140 805 160L1085 1010L885 1520L585 605L735 170Q745 150 770 150Z"/>
<path d="M765 190L1050 1010L880 1470L612 610ZM800 200L1068 1000M640 680L880 1420M1020 1020L990 1180"/>
<path style="stroke-width:2.2" d="M720 230L770 170L820 230"/>
<g style="stroke-width:1.6"><use href="#cm" x="760" y="430"/><use href="#cm" x="790" y="660"/><use href="#cm" x="680" y="740"/><use href="#cm" x="930" y="830"/><use href="#cm" x="850" y="960"/><use href="#cm" x="760" y="980"/><use href="#cm" x="935" y="1110"/><use href="#cm" x="845" y="1290"/><use href="#cm" x="830" y="470"/></g>
</g>

<!-- 45_boxes.svg -->
<g class="p" transform="translate(835,715) scale(0.10225)">
<defs><g id="bx">
<path class="w" d="M200 135L520 145Q550 150 555 200L565 300L600 360L635 440L625 500L530 755L470 850L225 860L105 490L190 270L185 180Z"/>
<path d="M210 145L320 490M345 150L360 300L440 460L432 500M105 490L625 495M190 490L260 322L305 482M190 490L270 722L312 640L305 490M440 495L310 845M270 722L225 860"/>
<path style="stroke-width:2.4" d="M370 245H550M395 375H592"/>
</g></defs>
<use href="#bx"/>
<use href="#bx" x="243" y="632"/>
</g>

<!-- 46_hinge2.svg -->
<g class="p" transform="translate(595,745) scale(0.06029)">
<path class="w" d="M290 165H355L425 380H600L655 575L570 695H325L220 370L222 285Z"/>
<path d="M300 200L405 575H655M405 575L325 695"/>
<rect class="w" x="168" y="278" width="125" height="75" rx="22" style="stroke-width:2.2"/>
<circle class="k" cx="335" cy="520" r="28"/>
<path class="k" d="M685 472L865 438V502Z"/><path class="k" d="M880 415L940 442L935 530L885 540Z"/>
</g>

<!-- 47_hinges.svg -->
<g transform="translate(460,1195) scale(0.0732)" stroke="#000" stroke-linejoin="round" stroke-linecap="round">
<path fill="#000" stroke-width="20" d="M440 190Q480 165 520 200L560 320L620 360L710 550L680 630L650 630L560 430L490 400L480 440L450 440L435 330L450 250Z"/>
<path fill="#fff" stroke="none" d="M490 245L545 345L600 385L570 400L485 340Z"/>
<circle fill="#fff" stroke="none" cx="482" cy="392" r="11"/><circle fill="#fff" stroke="none" cx="670" cy="585" r="12"/>
<!-- screw -->
<path fill="#000" stroke-width="10" d="M115 445H170V540H115ZM170 478H300V512H170ZM310 445H340L375 520V445H405V540H375L340 470V540H310Z"/>
<!-- pin 040 2 -->
<path fill="#000" stroke-width="10" d="M735 190H850V145H890V190H1040V232H890V265H850V232H735Z"/>
<path fill="#fff" stroke="none" d="M905 203H1025V219H905Z"/>
</g>
<g transform="translate(480,1320) scale(0.0732)" stroke="#000" stroke-linejoin="round" stroke-linecap="round">
<path fill="#000" stroke-width="20" d="M445 210Q500 170 560 200L580 260L560 320L610 360L710 580L690 650L650 660L570 470L500 420L450 290Z"/>
<path fill="#fff" stroke="none" d="M480 262L538 252L545 332L608 392L598 428L540 392Z"/>
<circle fill="#fff" stroke="none" cx="675" cy="600" r="11"/>
<path fill="#000" stroke-width="10" d="M160 450H215V550H160ZM215 482H330V516H215ZM355 448H395V548H355ZM420 440H462V560H420ZM395 480H420V520H395Z"/>
<circle fill="#fff" stroke="none" cx="185" cy="498" r="9"/>
</g>

<!-- 48_hinge4.svg -->
<g transform="translate(925,1190) scale(0.07321)" stroke="#000" stroke-linejoin="round" stroke-linecap="round" fill="none" stroke-width="22">
<path fill="#fff" d="M430 105H465L515 280L290 910L240 910L185 750L370 290Z"/>
<path d="M440 330L255 880M480 300L285 870" stroke-width="14"/>
<path fill="#000" d="M430 105L465 108L515 280L470 300L390 290Z"/>
<path fill="#fff" stroke="none" d="M432 150L440 190L420 190Z"/>
<ellipse cx="348" cy="478" rx="28" ry="40"/><ellipse cx="298" cy="622" rx="28" ry="40" transform="rotate(20 298 622)"/><ellipse cx="248" cy="750" rx="28" ry="38" transform="rotate(20 248 750)"/>
<path fill="#000" d="M275 240H400V300H300Z"/><path fill="#fff" stroke="none" d="M330 258H395V286H330Z"/>
<ellipse fill="#000" cx="158" cy="262" rx="28" ry="55"/>
<circle cx="582" cy="505" r="40" stroke-width="26"/><circle cx="700" cy="505" r="40" stroke-width="26"/>
<path fill="#000" d="M840 518L870 498H950L1000 478L1030 500L1025 560L995 580L950 545H860Z"/><path fill="#fff" stroke="none" d="M960 515H995V540H960Z"/>
</g>

<!-- 90_leaders.svg -->
<g class="ld">
<path d="M452 172V322"/>
<path d="M597.6 172V241"/>
<path d="M678.5 172V292"/>
<path d="M786 172V296"/>
<path d="M836.5 172V310"/>
<path d="M934.4 171V256"/>
<path d="M1041.4 174V289.2"/>
<path d="M280.4 553V446"/>
<path d="M306 617L307.3 698"/>
<path d="M378 617V671.5"/>
<path d="M422.5 617V668.5"/>
<path d="M534.5 617V667.5"/>
<path d="M565.7 553V439"/>
<path d="M639.3 553V459"/>
<path d="M670.4 553V421"/>
<path d="M736.6 616V790L667 890"/>
<path d="M798 553V486L835 447.5"/>
<path d="M826.2 617V740"/>
<path d="M876.5 617V734M908.1 753V796.5"/>
<path d="M271.3 982V872L313.7 812.5"/>
<path d="M307.8 982V915.7L322.5 887"/>
<path d="M348.9 958.5V913.5"/>
<path d="M512.3 983V960.7"/>
<path d="M572.5 975V913.5"/>
<path d="M669.7 983V944.5"/>
<path d="M956.3 1047V1197"/>
<path d="M356.3 754.5L344.4 767.6"/>
<path d="M401.4 1036V1123.8L491.3 1215.3"/>
<path d="M434.3 1044V1119L523.4 1203.6"/>
<path d="M816.5 1553V1493.5"/>
<path d="M895.8 1554V1490"/>
</g>
<g class="dl">
<path d="M876.5 688L908.1 753"/>
<path d="M510.7 670.3L531.4 713"/>
<path d="M341.6 705.1L356.3 753.9M357.7 755.8L371 765.7"/>
<path d="M512.3 960.7L478.6 941.4"/>
<path d="M836.5 310L818.5 375"/>
<path d="M1072.5 296.6L1052.8 344"/>
<path d="M1041.4 289.2L1018.5 345.7"/>
<path d="M478.6 979.3L463.4 966.9L433.1 953.8M463.4 966.9L464.1 954"/>
<path d="M522.5 1357.3L506.5 1430" style="stroke-dasharray:5 2;stroke-width:0.9"/>
<path d="M934.8 1354.4L957.2 1412.6"/>
</g>

</svg>
</body></html>
